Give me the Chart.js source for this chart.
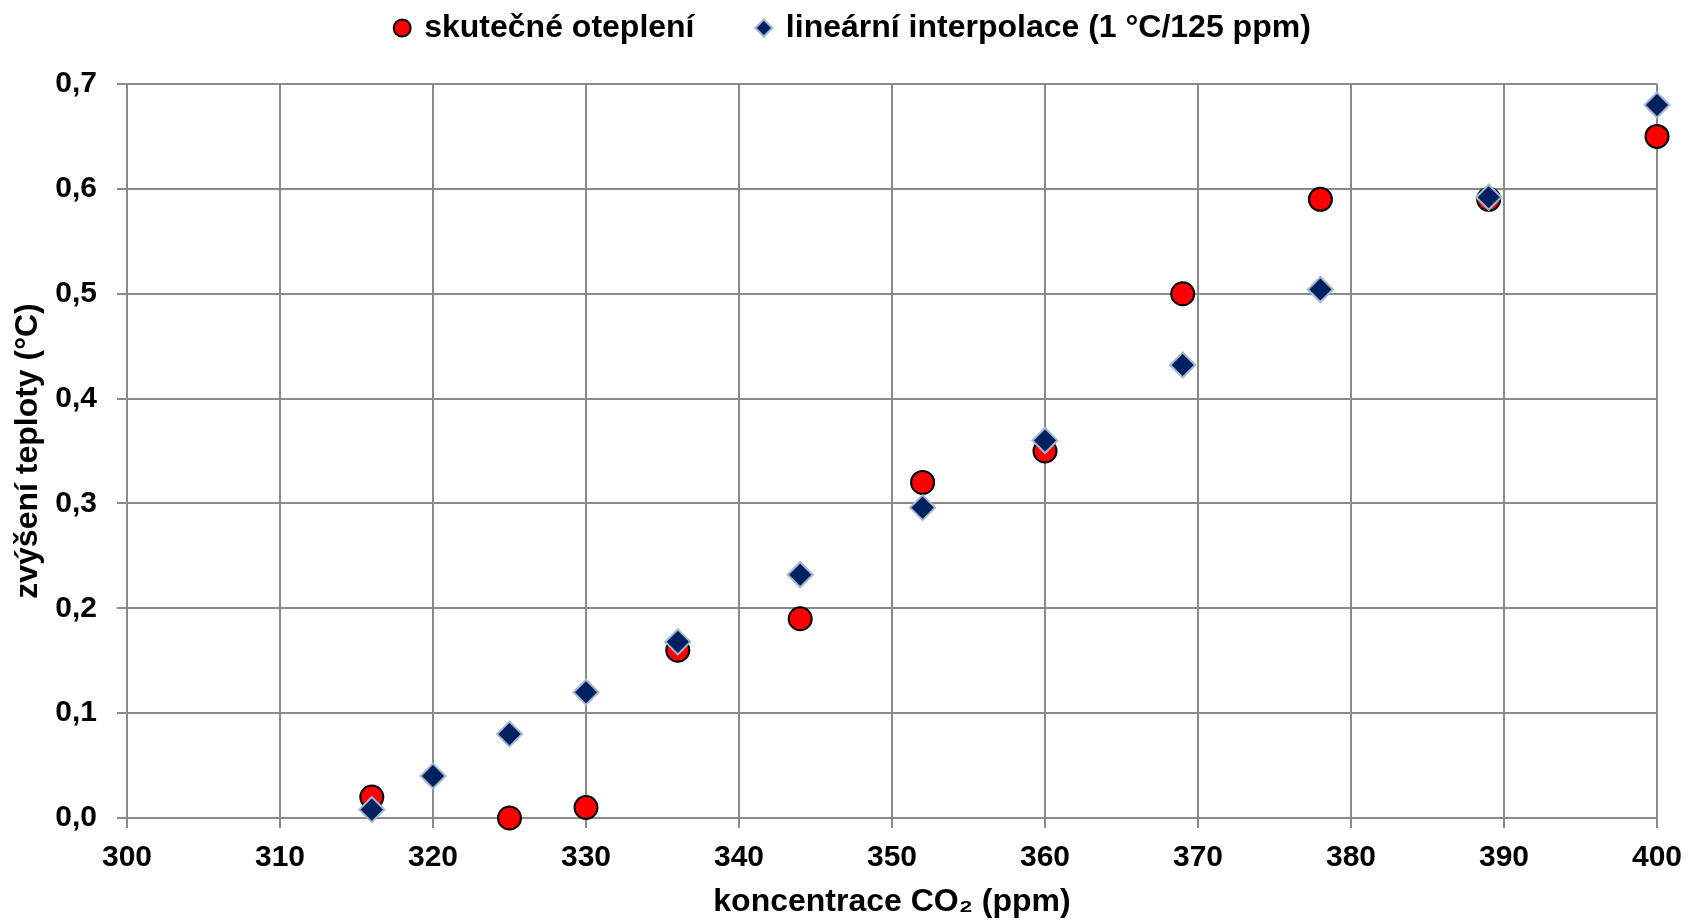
<!DOCTYPE html>
<html lang="cs">
<head>
<meta charset="utf-8">
<title>Oteplení vs. CO2</title>
<script src="https://cdn.jsdelivr.net/npm/chart.js@4/dist/chart.umd.min.js"></script>
<style>
    html, body { margin: 0; padding: 0; background: #ffffff; }
    #wrap { width: 1689px; height: 921px; position: relative; }
</style>
</head>
<body>
<div id="wrap"><canvas id="graf"></canvas></div>
<script>
// hodnoty
const co2Skutecne = [316, 325, 330, 336, 344, 352, 360, 369, 378, 389, 400];
const oteplSkutecne = [0.02, 0.00, 0.01, 0.16, 0.19, 0.32, 0.35, 0.50, 0.59, 0.59, 0.65];

const co2Interp = [316, 320, 325, 330, 336, 344, 352, 360, 369, 378, 389, 400];
const oteplInterp = [0.008, 0.04, 0.08, 0.12, 0.168, 0.232, 0.296, 0.36, 0.432, 0.504, 0.592, 0.68];

const nazvySerii = ['skutečné oteplení', 'lineární interpolace (1 °C/125 ppm)'];
const osaX = { min: 300, max: 400, krok: 10, titulek: 'koncentrace CO₂ (ppm)' };
const osaY = { min: 0, max: 0.7, krok: 0.1, titulek: 'zvýšení teploty (°C)' };

const pismo = 'Liberation Sans, Arial, sans-serif';

function body(xs, ys) {
    return xs.map((x, i) => ({ x: x, y: ys[i] }));
}

// trochu víc místa pod legendou a posun legendy doprava
const legendaOdsazeni = {
    id: 'legendaOdsazeni',
    beforeInit(chart) {
        const fit = chart.legend.fit;
        chart.legend.fit = function () {
            fit.bind(chart.legend)();
            this.height += 32;
        };
    },
    afterLayout(chart) {
        chart.legend.left += 9;
        chart.legend.right += 9;
        chart.legend.top += 2;
    }
};

new Chart(document.getElementById('graf').getContext('2d'), {
    type: 'scatter',
    data: {
        datasets: [
            {
                label: nazvySerii[0],
                data: body(co2Skutecne, oteplSkutecne),
                pointStyle: 'circle',
                pointRadius: 11.5,
                pointHoverRadius: 11.5,
                pointBorderWidth: 2,
                backgroundColor: '#ff0000',
                borderColor: '#000000',
                order: 2,
                clip: false
            },
            {
                label: nazvySerii[1],
                data: body(co2Interp, oteplInterp),
                pointStyle: 'rectRot',
                pointRadius: 12.5,
                pointHoverRadius: 12.5,
                pointBorderWidth: 2,
                backgroundColor: '#002060',
                borderColor: '#a3b8cc',
                order: 1,
                clip: false
            }
        ]
    },
    options: {
        responsive: true,
        maintainAspectRatio: false,
        animation: false,
        devicePixelRatio: 1,
        layout: { padding: { top: 0, right: 0, bottom: 0, left: 0 } },
        plugins: {
            legend: {
                position: 'top',
                labels: {
                    color: '#000000',
                    usePointStyle: true,
                    boxWidth: 12,
                    boxHeight: 12,
                    padding: 10,
                    font: { family: pismo, size: 32, weight: 'bold' },
                    sort: (a, b) => a.datasetIndex - b.datasetIndex,
                    generateLabels(chart) {
                        const polozky = Chart.defaults.plugins.legend.labels.generateLabels(chart);
                        polozky.forEach(p => {
                            if (p.datasetIndex === 0) p.text = p.text + '      ';
                        });
                        return polozky;
                    }
                }
            },
            tooltip: { enabled: false }
        },
        scales: {
            x: {
                type: 'linear',
                min: osaX.min,
                max: osaX.max,
                afterFit: scale => {
                    scale.height = 103;
                    scale.paddingRight = 32;
                },
                grid: { color: '#8a8a8a', lineWidth: 2, tickLength: 10 },
                border: { color: '#8a8a8a', width: 2 },
                ticks: {
                    stepSize: osaX.krok,
                    color: '#000000',
                    padding: 12,
                    maxRotation: 0,
                    font: { family: pismo, size: 30, weight: 'bold' }
                },
                title: {
                    display: true,
                    text: osaX.titulek,
                    color: '#000000',
                    padding: { top: 10, bottom: 0 },
                    font: { family: pismo, size: 32, weight: 'bold' }
                }
            },
            y: {
                type: 'linear',
                min: osaY.min,
                max: osaY.max,
                afterFit: scale => { scale.width = 127; },
                grid: { color: '#8a8a8a', lineWidth: 2, tickLength: 10 },
                border: { color: '#8a8a8a', width: 2 },
                ticks: {
                    stepSize: osaY.krok,
                    color: '#000000',
                    padding: 20,
                    font: { family: pismo, size: 30, weight: 'bold' },
                    callback: v => v.toFixed(1).replace('.', ',')
                },
                title: {
                    display: true,
                    text: osaY.titulek,
                    color: '#000000',
                    padding: { top: 9, bottom: 9 },
                    font: { family: pismo, size: 32, weight: 'bold' }
                }
            }
        }
    },
    plugins: [legendaOdsazeni]
});
</script>
</body>
</html>
